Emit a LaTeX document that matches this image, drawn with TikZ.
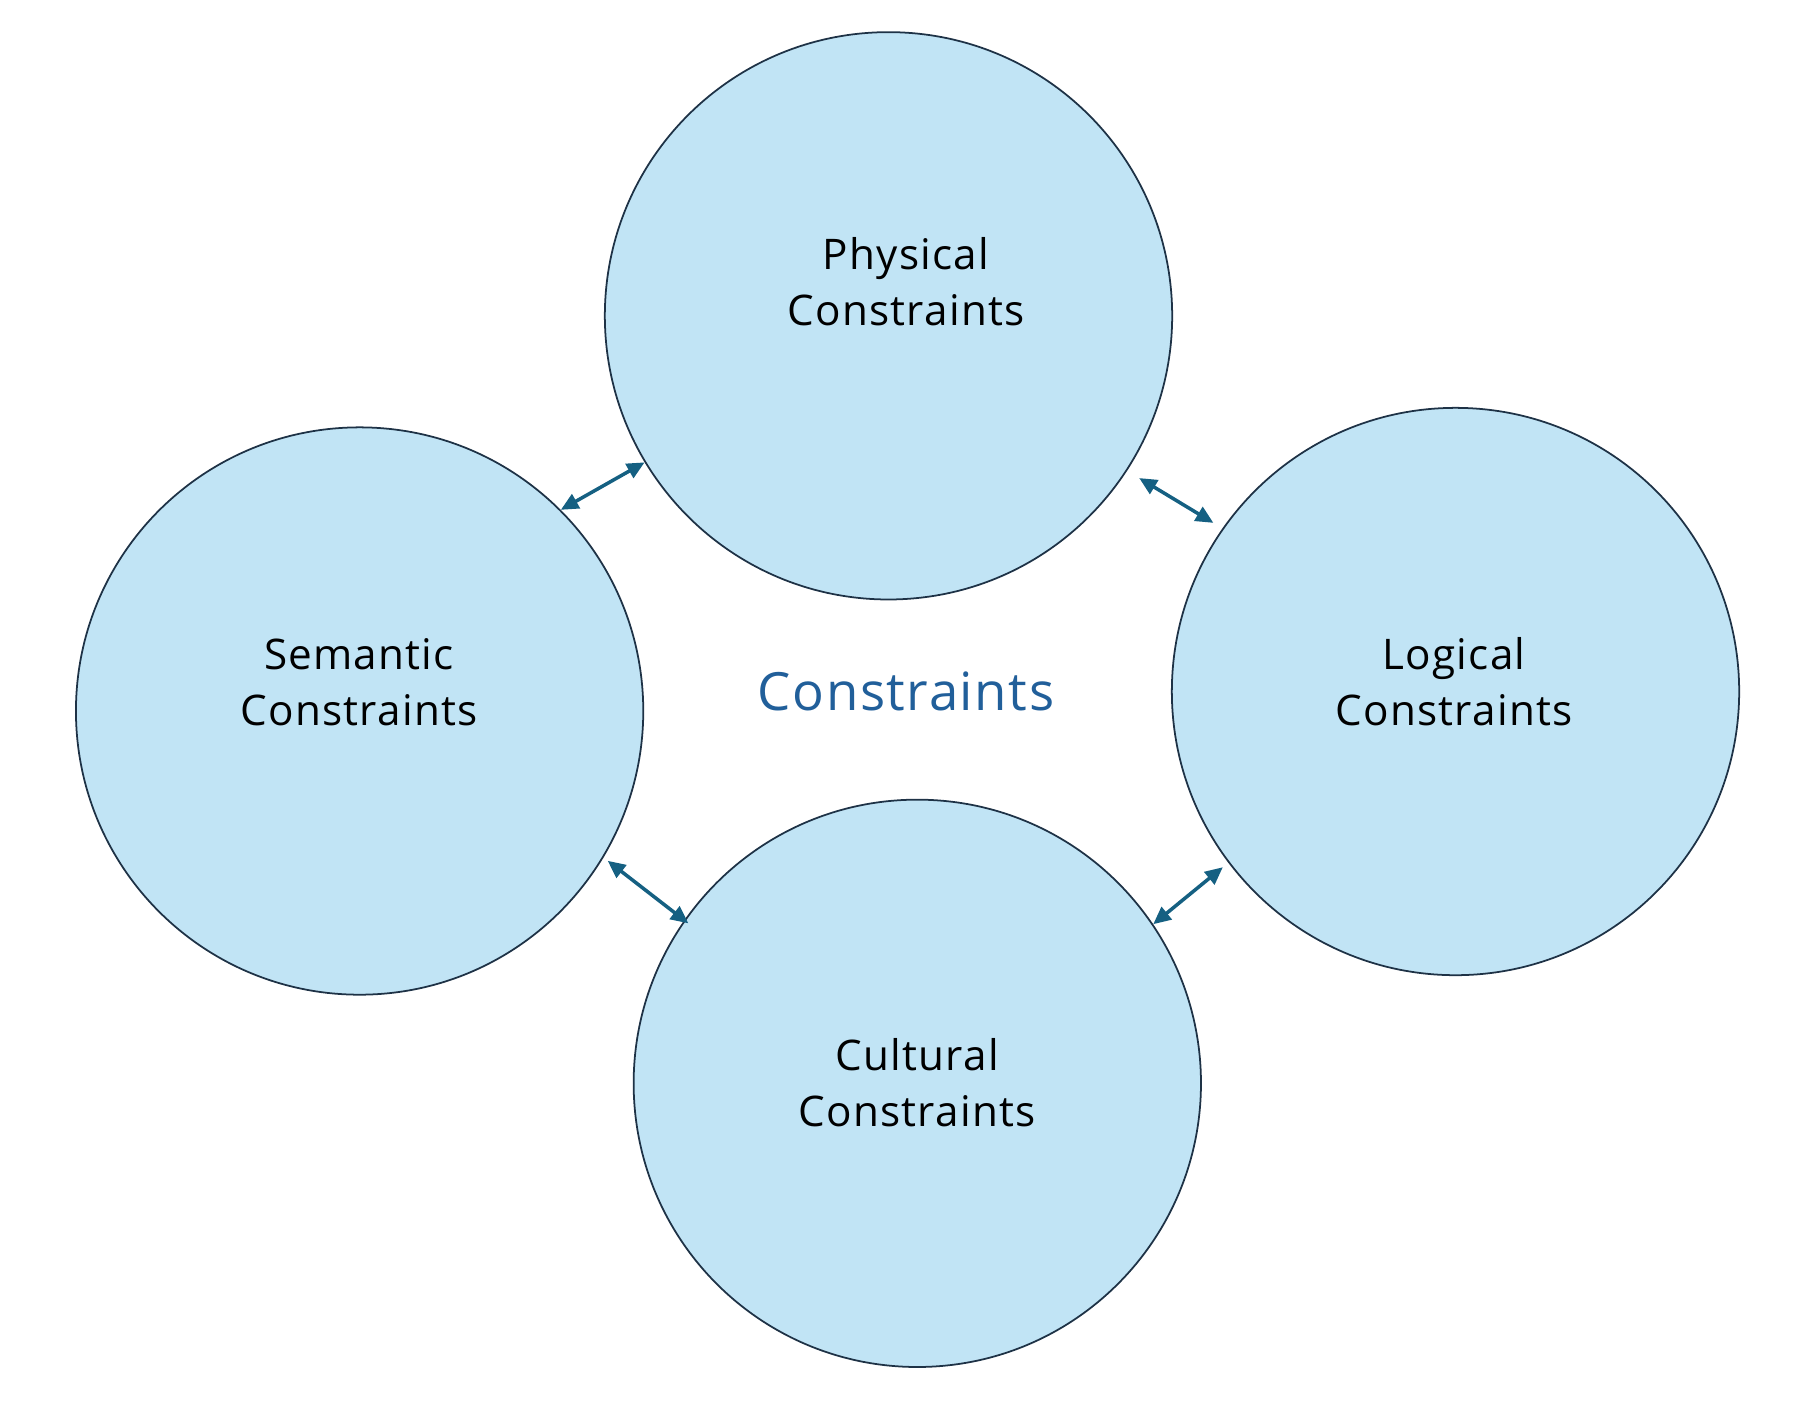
\documentclass[tikz,border=0pt]{standalone}
\usepackage{fontspec}
\setmainfont{Open Sans}[LetterSpace=3]
\usepackage{tikz}
\usetikzlibrary{arrows.meta}
\definecolor{bubble}{RGB}{193,228,245}
\definecolor{rim}{RGB}{30,50,70}
\definecolor{link}{RGB}{21,96,130}
\definecolor{title}{RGB}{33,95,154}

\begin{document}
\begin{tikzpicture}[x=0.01cm,y=-0.01cm,
    area/.style={circle, fill=bubble, draw=rim, line width=0.5pt, minimum size=5.67cm, inner sep=0pt},
    txt/.style={align=center, font=\fontsize{12}{16}\selectfont},
    link/.style={draw=link, line width=1pt, {Triangle[length=5pt,width=4.5pt]}-{Triangle[length=5pt,width=4.5pt]}}]
    \useasboundingbox (0,0) rectangle (1807,1402);
    \node[area] (phys) at (888.5,315.8) {};
    \node[area] (sem) at (359.6,711) {};
    \node[area] (log) at (1455.5,691.5) {};
    \node[area] (cult) at (917.3,1083.3) {};
    \node[txt] (physt) at (906,282) {Physical\\Constraints};
    \node[txt] (semt) at (359,682) {Semantic\\Constraints};
    \node[txt] (logt) at (1454,682) {Logical\\Constraints};
    \node[txt] (cultt) at (917,1083) {Cultural\\Constraints};
    \node[text=title, font=\fontsize{15}{18}\selectfont] (main) at (906,691) {Constraints};
    \draw[link] (sem.45) -- (phys.211);
    \draw[link, shorten <=4pt, shorten >=3pt] (phys.327) -- (log.145);
    \draw[link, shorten <=1.5pt, shorten >=-1.5pt] (sem.329) -- (cult.145);
    \draw[link, shorten <=2pt] (log.217) -- (cult.34);
\end{tikzpicture}
\end{document}
